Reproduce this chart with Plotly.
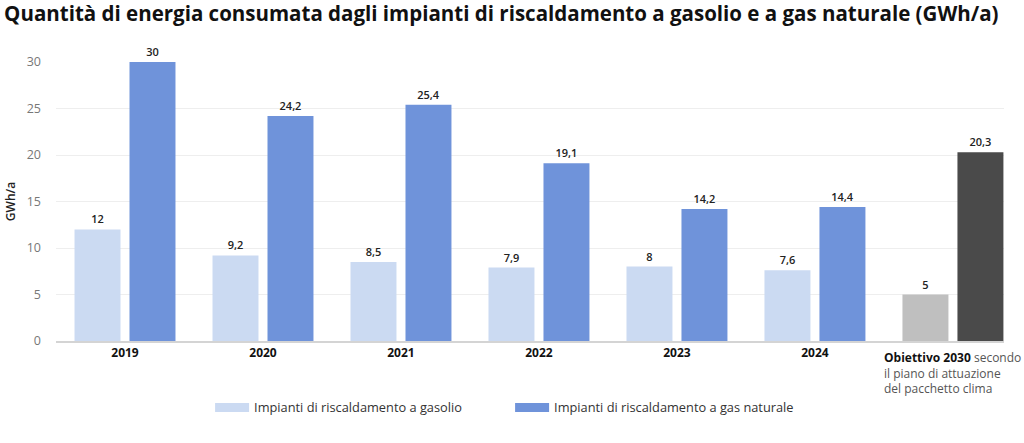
import plotly.graph_objects as go

categories = ["2019", "2020", "2021", "2022", "2023", "2024", "Obiettivo 2030"]
gasolio = [12, 9.2, 8.5, 7.9, 8, 7.6, 5]
gas_naturale = [30, 24.2, 25.4, 19.1, 14.2, 14.4, 20.3]
labels_gasolio = ["12", "9,2", "8,5", "7,9", "8", "7,6", "5"]
labels_gas = ["30", "24,2", "25,4", "19,1", "14,2", "14,4", "20,3"]
tick_text = ["2019", "2020", "2021", "2022", "2023", "2024", ""]
y_ticks = [0, 5, 10, 15, 20, 25, 30]

name_gasolio = "Impianti di riscaldamento a gasolio"
name_gas = "Impianti di riscaldamento a gas naturale"

c_light = "#cbdaf2"
c_blue = "#6f93da"
c_gray = "#bfbfbf"
c_dark = "#4a4a4a"

FONT = "Open Sans"

col_light = [c_light] * 6 + [c_gray]
col_blue = [c_blue] * 6 + [c_dark]

fig = go.Figure()
fig.add_trace(go.Bar(
    x=categories, y=gasolio, name=name_gasolio, showlegend=False,
    marker=dict(color=col_light, line=dict(width=0)),
    text=labels_gasolio, textposition="outside", cliponaxis=False,
    textfont=dict(family=FONT, size=11, color="#222", weight=600),
))
fig.add_trace(go.Bar(
    x=categories, y=gas_naturale, name=name_gas, showlegend=False,
    marker=dict(color=col_blue, line=dict(width=0)),
    text=labels_gas, textposition="outside", cliponaxis=False,
    textfont=dict(family=FONT, size=11, color="#222", weight=600),
))
# legend entries with wide swatches
for nm, col in [(name_gasolio, c_light), (name_gas, c_blue)]:
    fig.add_trace(go.Scatter(
        x=[None], y=[None], mode="lines", name=nm,
        line=dict(color=col, width=9),
    ))

fig.add_annotation(
    x=categories[-1], y=0, xref="x", yref="y", yshift=-6,
    xanchor="center", yanchor="top", align="left", showarrow=False,
    text="<b>Obiettivo 2030</b> <span style='color:#555'>secondo</span><br>"
         "<span style='color:#555'>il piano di attuazione</span><br>"
         "<span style='color:#555'>del pacchetto clima</span>",
    font=dict(family=FONT, size=12, color="#111"),
)

fig.update_layout(
    width=1024, height=443,
    margin=dict(l=56, r=20, t=62, b=102),
    paper_bgcolor="white", plot_bgcolor="white",
    title=dict(
        text="<b>Quantità di energia consumata dagli impianti di riscaldamento a gasolio e a gas naturale (GWh/a)</b>",
        x=0.004, xanchor="left", y=0.985, yanchor="top",
        font=dict(family=FONT, size=20.5, color="#111"),
    ),
    barmode="group", bargap=0.203, bargroupgap=0.164,
    font=dict(family=FONT),
    legend=dict(
        orientation="h", x=0.479, xanchor="center", y=-0.185, yanchor="top",
        font=dict(family=FONT, size=12.8, color="#333"),
        itemwidth=34, traceorder="normal", entrywidth=251,
    ),
    xaxis=dict(
        type="category", range=[-0.5, 6.37],
        tickvals=categories, ticktext=tick_text,
        tickfont=dict(family=FONT, size=12, color="#111", weight=700),
        showline=True, linecolor="#d4d4d4", linewidth=2,
        showgrid=False, ticks="", automargin=False,
    ),
    yaxis=dict(
        range=[0, 30], tickvals=y_ticks, automargin=False,
        tickfont=dict(family=FONT, size=12.5, color="#777"),
        showgrid=True, gridcolor="#eeeeee", gridwidth=1,
        zeroline=False, ticks="", ticklabelstandoff=14,
        title=dict(text="GWh/a", font=dict(family=FONT, size=12, color="#222", weight=600), standoff=8),
    ),
)

fig.write_html("out.html", config={"displayModeBar": False},
               post_script="document.body.style.margin='0';")
